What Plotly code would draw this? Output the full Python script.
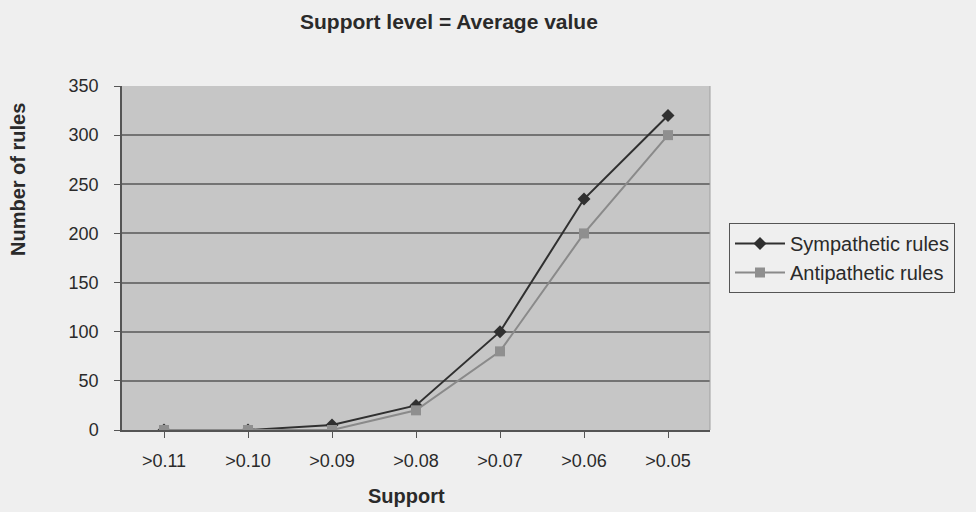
import plotly.graph_objects as go

categories = [">0.11", ">0.10", ">0.09", ">0.08", ">0.07", ">0.06", ">0.05"]
sympathetic = [0, 0, 5, 25, 100, 235, 320]
antipathetic = [0, 0, 0, 20, 80, 200, 300]
y_ticks = [0, 50, 100, 150, 200, 250, 300, 350]

font = "Liberation Sans, Arial, sans-serif"
txt = "#2a2a2a"

fig = go.Figure()
fig.add_trace(go.Scatter(
    x=categories, y=sympathetic, name="Sympathetic rules",
    mode="lines+markers",
    line=dict(color="#303030", width=2),
    marker=dict(symbol="diamond", size=10, color="#303030"),
))
fig.add_trace(go.Scatter(
    x=categories, y=antipathetic, name="Antipathetic rules",
    mode="lines+markers",
    line=dict(color="#8a8a8a", width=2),
    marker=dict(symbol="square", size=10, color="#8f8f8f"),
))

fig.update_layout(
    width=976, height=512,
    paper_bgcolor="#efefef",
    plot_bgcolor="#c6c6c6",
    margin=dict(l=122, r=266, t=86, b=82),
    title=dict(text="<b>Support level = Average value</b>", x=0.46, xanchor="center",
               y=0.957, yanchor="middle",
               font=dict(family=font, size=21, color=txt)),
    font=dict(family=font, size=18, color=txt),
    legend=dict(x=(729 - 122) / 588, y=(430 - 258) / 344, xanchor="left", yanchor="middle",
                bgcolor="#efefef", bordercolor="#555", borderwidth=1,
                font=dict(family=font, size=20, color=txt),
                tracegroupgap=0, itemwidth=50),
    showlegend=True,
    annotations=[
        dict(text="<b>Number of rules</b>", textangle=-90, xref="paper", yref="paper",
             x=-(122 - 18) / 588, y=(430 - 180) / 344, xanchor="center", yanchor="middle",
             showarrow=False, font=dict(family=font, size=20, color=txt)),
        dict(text="<b>Support</b>", xref="paper", yref="paper",
             x=(406 - 122) / 588, y=-(496 - 430) / 344, xanchor="center", yanchor="middle",
             showarrow=False, font=dict(family=font, size=20, color=txt)),
    ],
)
fig.update_xaxes(
    type="category",
    showline=True, linecolor="#555", linewidth=1.5,
    ticks="outside", ticklen=6, tickcolor="#555",
    ticklabelstandoff=8,
    showgrid=False,
    range=[-0.5, 6.5],
)
fig.update_yaxes(
    range=[0, 350], tickvals=y_ticks,
    showline=True, linecolor="#555", linewidth=1.5,
    ticks="outside", ticklen=6, tickcolor="#555",
    ticklabelstandoff=12,
    showgrid=True, gridcolor="#737373", gridwidth=1.5,
    zeroline=False,
)
fig.add_shape(type="line", xref="paper", yref="paper", x0=1, x1=1, y0=0, y1=1,
              line=dict(color="#a0a0a0", width=1))

fig.write_html("out.html", config={"displayModeBar": False},
               post_script="document.body.style.margin='0';document.body.style.background='#efefef';")
